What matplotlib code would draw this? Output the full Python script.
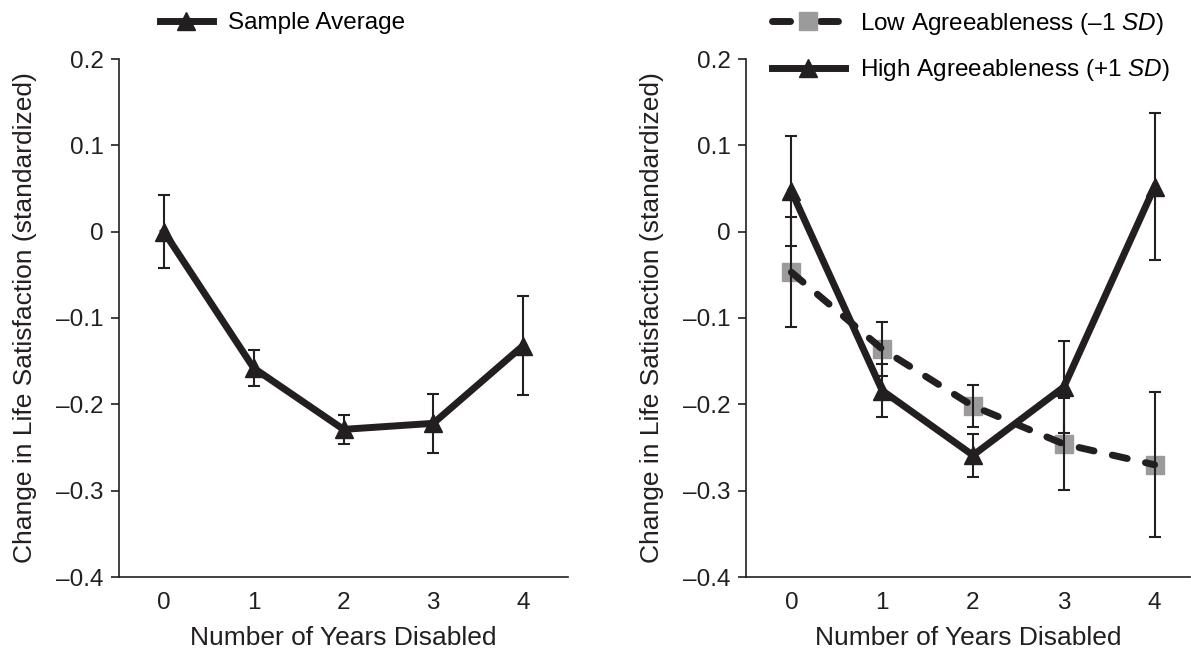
import matplotlib
matplotlib.use('Agg')
import matplotlib.pyplot as plt
from matplotlib.lines import Line2D

plt.rcParams['font.family'] = ['Liberation Sans', 'DejaVu Sans']
plt.rcParams['mathtext.fontset'] = 'custom'
plt.rcParams['mathtext.rm'] = 'Liberation Sans'
plt.rcParams['mathtext.it'] = 'Liberation Sans:italic'

# --- dati ---
anni = [0, 1, 2, 3, 4]
media = [0.0, -0.158, -0.229, -0.222, -0.132]
media_err = [0.042, 0.021, 0.017, 0.034, 0.057]

basso = [-0.047, -0.136, -0.202, -0.246, -0.270]
basso_err = [0.064, 0.031, 0.024, 0.053, 0.084]
alto = [0.047, -0.184, -0.259, -0.180, 0.052]
alto_err = [0.064, 0.031, 0.025, 0.053, 0.085]

yticks = [-0.4, -0.3, -0.2, -0.1, 0, 0.1, 0.2]
ylabels = ['–0.4', '–0.3', '–0.2', '–0.1', '0', '0.1', '0.2']

nero = '#231f20'
grigio = '#9b9b9b'
W, H = 1191, 650

fig = plt.figure(figsize=(W / 100, H / 100), dpi=100)
ax1 = fig.add_axes([119 / W, 73 / H, 449 / W, 518 / H])
ax2 = fig.add_axes([746 / W, 73 / H, 444 / W, 518 / H])


def stile(ax, xmax, ylab_x):
    ax.set_xlim(-0.5, xmax)
    ax.set_ylim(-0.4, 0.2)
    ax.set_yticks(yticks)
    ax.set_yticklabels(ylabels)
    ax.set_xticks(anni)
    ax.set_xticklabels([str(a) for a in anni])
    ax.spines['top'].set_visible(False)
    ax.spines['right'].set_visible(False)
    for s in ['left', 'bottom']:
        ax.spines[s].set_linewidth(1.2)
        ax.spines[s].set_color(nero)
    ax.tick_params(axis='y', direction='out', length=6, width=1.2, color=nero,
                   labelsize=17.5, pad=5, labelcolor=nero)
    ax.tick_params(axis='x', length=0, labelsize=17.5, pad=11, labelcolor=nero)
    ax.set_xlabel('Number of Years Disabled', fontsize=19, color=nero, va='baseline')
    ax.xaxis.set_label_coords(0.5, -0.131)
    ax.set_ylabel('Change in Life Satisfaction (standardized)', fontsize=19,
                  color=nero, va='center')
    ax.yaxis.set_label_coords(ylab_x, 0.5)


# --- grafico sinistro ---
stile(ax1, 4.5, -0.209)
ax1.plot(anni, media, color=nero, lw=5, marker='^', ms=13, zorder=3)
ax1.errorbar(anni, media, yerr=media_err, fmt='none', ecolor=nero,
             elinewidth=1.5, capsize=4, capthick=1.5, zorder=4)
h1 = Line2D([], [], color=nero, lw=5, marker='^', ms=13)
ax1.legend([h1], ['Sample Average'], loc='center left',
           bbox_to_anchor=(160 / W, 1 - 23 / H), bbox_transform=fig.transFigure,
           frameon=False, fontsize=17.5, borderpad=0, borderaxespad=0,
           handlelength=2.18, handletextpad=0.62)

# --- grafico destro ---
stile(ax2, 4.39, -0.212)
ax2.plot(anni, basso, color=grigio, lw=0, marker='s', ms=13, zorder=2)
ax2.plot(anni, basso, color=nero, lw=5, dashes=(2.2, 2.7),
         dash_capstyle='round', zorder=3)
ax2.plot(anni, alto, color=nero, lw=5, marker='^', ms=13, zorder=3)
ax2.errorbar(anni, basso, yerr=basso_err, fmt='none', ecolor=nero,
             elinewidth=1.5, capsize=4, capthick=1.5, zorder=4)
ax2.errorbar(anni, alto, yerr=alto_err, fmt='none', ecolor=nero,
             elinewidth=1.5, capsize=4, capthick=1.5, zorder=4)

h_basso = Line2D([], [], color=nero, lw=5, dashes=(2.6, 4.3), dash_capstyle='round',
                 marker='s', ms=13, markerfacecolor=grigio, markeredgecolor=grigio)
h_alto = Line2D([], [], color=nero, lw=5, marker='^', ms=13)
ax2.legend([h_basso, h_alto],
           ['Low Agreeableness (–1 $\\it{SD}$)', 'High Agreeableness (+1 $\\it{SD}$)'],
           loc='center left', bbox_to_anchor=(772 / W, 1 - 47 / H),
           bbox_transform=fig.transFigure, frameon=False, fontsize=17.5,
           borderpad=0, borderaxespad=0, handlelength=3.0, handletextpad=0.62,
           labelspacing=0.85)

fig.savefig('out.png', dpi=100)
